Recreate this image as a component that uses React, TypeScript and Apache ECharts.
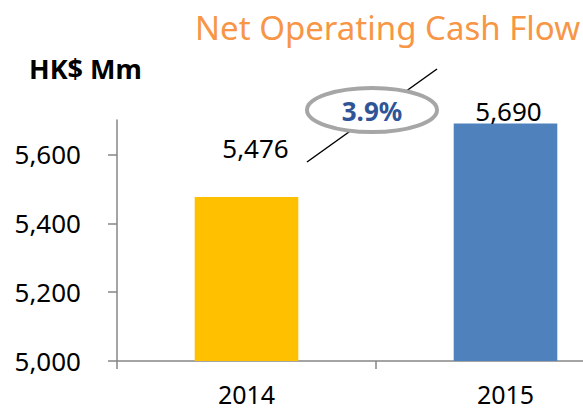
import React, { useEffect, useRef } from "react";
import * as echarts from "echarts";

const categories = ["2014", "2015"];
const values = [5476, 5690];
const barColors = ["#FFC000", "#4F81BD"];
const yTicks = [5000, 5200, 5400, 5600];
const growthLabel = "3.9%";
const unitLabel = "HK$ Mm";
const titleText = "Net Operating Cash Flow";

const FONT = "'Noto Sans', 'Open Sans', sans-serif";
const CHART_W = 640;

export default function App() {
  const ref = useRef<HTMLDivElement>(null);
  useEffect(() => {
    if (!ref.current) return;
    const chart = echarts.init(ref.current, null, { renderer: "svg" });
    chart.setOption({
      animation: false,
      backgroundColor: "#ffffff",
      textStyle: { fontFamily: FONT },
      grid: { left: 117, top: 120, bottom: 50, right: CHART_W - 635, containLabel: false },
      xAxis: {
        type: "category",
        data: categories,
        boundaryGap: true,
        axisLine: { lineStyle: { color: "#868686", width: 1.5 } },
        axisTick: { show: true, length: 8, lineStyle: { color: "#868686", width: 1.5 } },
        axisLabel: { color: "#000", fontSize: 25, lineHeight: 24, margin: 21, fontFamily: FONT },
      },
      yAxis: {
        type: "value",
        min: yTicks[0],
        max: 5700,
        interval: 200,
        splitLine: { show: false },
        axisLine: { show: true, lineStyle: { color: "#868686", width: 1.5 } },
        axisTick: { show: true, length: 9, lineStyle: { color: "#868686", width: 1.5 } },
        axisLabel: {
          color: "#000",
          fontSize: 26,
          margin: 36,
          showMaxLabel: false,
          fontFamily: FONT,
          formatter: (v: number) => v.toLocaleString("en-US"),
        },
      },
      series: [
        {
          type: "bar",
          barWidth: "40%",
          data: values.map((v, i) => ({
            value: v,
            itemStyle: { color: barColors[i] },
            label: {
              show: true,
              position: "top",
              distance: 0,
              offset: i === 0 ? [9, -36] : [3, 1],
              color: "#000",
              fontSize: 26,
              fontFamily: FONT,
              formatter: (p: any) => Number(p.value).toLocaleString("en-US"),
            },
          })),
        },
      ],
      graphic: [
        {
          type: "text",
          left: 195,
          top: 11,
          style: { text: titleText, fill: "#F79646", fontSize: 33, fontFamily: FONT },
        },
        {
          type: "text",
          left: 29,
          top: 55,
          style: { text: unitLabel, fill: "#000", fontSize: 27, fontWeight: "bold", fontFamily: FONT },
        },
        {
          type: "line",
          shape: { x1: 307, y1: 162, x2: 437, y2: 69 },
          style: { stroke: "#000", lineWidth: 1.5 },
          z: 10,
        },
        {
          type: "ellipse",
          shape: { cx: 372, cy: 110, rx: 65, ry: 22 },
          style: { fill: "#fff", stroke: "#A6A6A6", lineWidth: 4 },
          z: 11,
        },
        {
          type: "text",
          x: 372,
          y: 111,
          style: {
            text: growthLabel,
            fill: "#2F5597",
            fontSize: 26,
            fontWeight: "bold",
            fontFamily: FONT,
            align: "center",
            verticalAlign: "middle",
          },
          z: 12,
        },
      ],
    });
    return () => chart.dispose();
  }, []);
  return (
    <div style={{ width: 583, height: 411, position: "absolute", left: 0, top: 0, overflow: "hidden" }}>
      <div ref={ref} style={{ width: CHART_W, height: 411 }} />
    </div>
  );
}
